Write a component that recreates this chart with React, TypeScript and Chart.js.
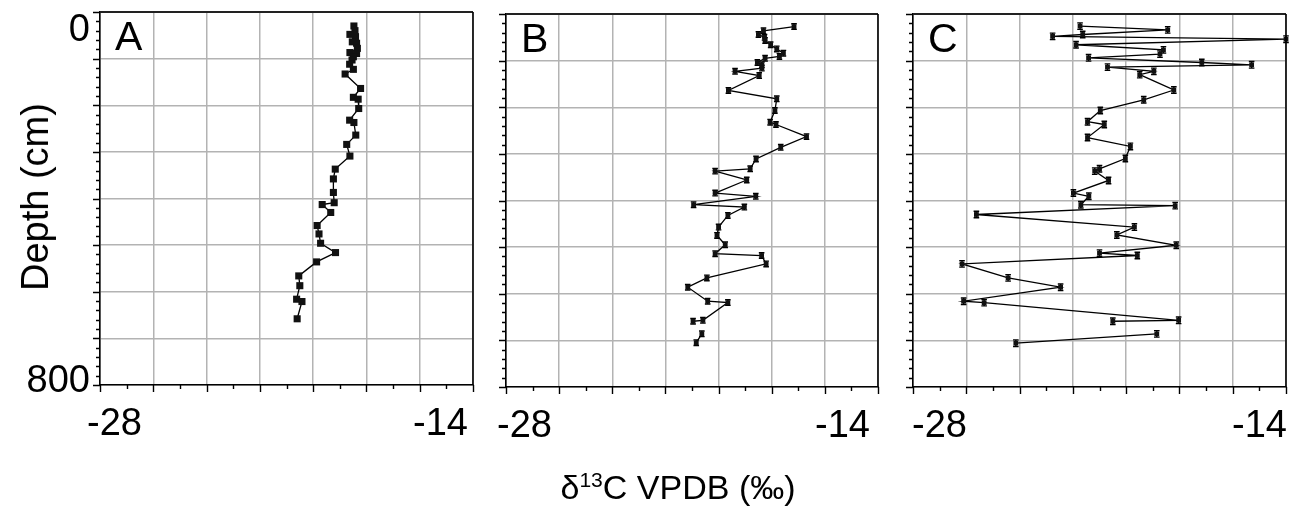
import React, { useEffect, useRef } from "react";
import { Chart, registerables } from "chart.js";

Chart.register(...registerables);

// ---- axes ----
const X_MIN = -28;
const X_MAX = -14;
const DEPTH_MIN = 0;
const DEPTH_MAX = 800;
const xTickValues = [-28, -14];
const xTickLabels = ["-28", "-14"];
const yTickValues = [0, 800];
const yTickLabels = ["0", "800"];

// ---- panel A ----
const depthA = [30, 40, 48, 53, 64, 67, 78, 87, 89, 96, 103, 112, 123, 133, 164, 183, 187, 207, 232, 237, 264, 284, 309, 337, 358, 387, 409, 413, 430, 458, 476, 496, 516, 536, 566, 587, 616, 621, 658];
const d13cA = [-18.47, -18.43, -18.62, -18.41, -18.53, -18.37, -18.34, -18.62, -18.37, -18.49, -18.54, -18.63, -18.49, -18.8, -18.22, -18.49, -18.31, -18.29, -18.63, -18.47, -18.4, -18.74, -18.62, -19.17, -19.24, -19.24, -19.21, -19.66, -19.34, -19.85, -19.78, -19.72, -19.16, -19.87, -20.54, -20.5, -20.62, -20.42, -20.6];

// ---- panel B (null = gap in the record) ----
const depthB = [27, 36, 44, 50, 57, 66, 75, 84, 91, 95, 104, 109, 116, 123, 132, 164, 182, 207, 232, 237, 263, 286, 311, 332, 337, 356, 384, 391, 409, 414, 432, 457, 475, 495, 514, 518, 536, 566, 586, 616, 619, 657, 659, 672, 686, 705];
const d13cB = [-17.16, -18.31, -18.5, -18.27, -18.25, -18.04, -17.81, -17.56, -17.71, -18.25, -18.54, -18.37, -18.37, -19.38, -18.47, -19.63, -17.81, -17.88, -18.06, -17.84, -16.69, -17.66, -18.59, -18.81, -20.13, -18.94, -20.13, -18.6, -20.94, -19.03, -19.65, -20.0, -20.06, -19.75, -20.13, -18.38, -18.21, -20.44, -21.16, -20.41, -19.65, -20.59, -20.96, null, -20.63, -20.84];

// ---- panel C (null = gap in the record) ----
const depthC = [26, 34, 44, 48, 54, 66, 77, 86, 94, 104, 109, 114, 123, 130, 163, 184, 207, 231, 237, 265, 284, 310, 332, 337, 357, 384, 391, 409, 411, 430, 457, 474, 496, 513, 518, 536, 566, 586, 616, 619, 657, 659, 672, 686, 706];
const d13cC = [-21.73, -18.44, -21.63, -22.76, -14.0, -21.88, -18.6, -18.73, -21.41, -17.16, -15.29, -20.7, -18.96, -19.49, -18.21, -19.34, -20.97, -21.45, -20.82, -21.45, -19.84, -20.03, -21.0, -21.18, -20.66, -21.98, -21.4, -21.7, -18.16, -25.62, -19.69, -20.35, -18.12, -21.0, -19.58, -26.16, -24.43, -22.46, -26.1, -25.33, -18.03, -20.5, null, -18.85, -24.14];

// depth uncertainty (cm) drawn as vertical bars
const depthErrA = 0;
const depthErrB = 6;
const depthErrC = 7;

const W = 1295;
const H = 509;
const FONT = '"Liberation Sans", Arial, Helvetica, sans-serif';

type Panel = {
  letter: string;
  depth: number[];
  values: (number | null)[];
  err: number;
  area: { l: number; t: number; r: number; b: number };
  radius: number;
  xLabelDx: [number, number];
  showYLabels: boolean;
};

const panels: Panel[] = [
  { letter: "A", depth: depthA, values: d13cA, err: depthErrA, area: { l: 100, t: 12, r: 473, b: 385 }, radius: 5, xLabelDx: [-13, -5], showYLabels: true },
  { letter: "B", depth: depthB, values: d13cB, err: depthErrB, area: { l: 506, t: 14, r: 878, b: 387 }, radius: 3.4, xLabelDx: [-9, -8], showYLabels: false },
  { letter: "C", depth: depthC, values: d13cC, err: depthErrC, area: { l: 913, t: 14, r: 1286, b: 387 }, radius: 3.4, xLabelDx: [-1, 1], showYLabels: false },
];

const decorPlugin = {
  id: "decor",
  beforeDatasetsDraw(chart: any, _args: any, opts: any) {
    const p: Panel = opts.panel;
    if (!p.err) return;
    const ctx = chart.ctx;
    const ys = chart.scales.y;
    const meta = chart.getDatasetMeta(0);
    ctx.save();
    ctx.strokeStyle = "#000";
    ctx.lineWidth = 1.4;
    meta.data.forEach((el: any, i: number) => {
      if (el.skip || p.values[i] === null) return;
      const y1 = ys.getPixelForValue(p.depth[i] - p.err);
      const y2 = ys.getPixelForValue(p.depth[i] + p.err);
      ctx.beginPath();
      ctx.moveTo(el.x, y1);
      ctx.lineTo(el.x, y2);
      ctx.moveTo(el.x - 2.8, y1);
      ctx.lineTo(el.x + 2.8, y1);
      ctx.moveTo(el.x - 2.8, y2);
      ctx.lineTo(el.x + 2.8, y2);
      ctx.stroke();
    });
    ctx.restore();
  },
  afterDraw(chart: any, _args: any, opts: any) {
    const p: Panel = opts.panel;
    const ctx = chart.ctx;
    const xs = chart.scales.x;
    const ys = chart.scales.y;
    const { left, right, top, bottom } = chart.chartArea;
    ctx.save();
    // top and right frame
    ctx.strokeStyle = "#222";
    ctx.lineWidth = 2;
    ctx.beginPath();
    ctx.moveTo(left, top);
    ctx.lineTo(right, top);
    ctx.stroke();
    ctx.strokeStyle = "#000";
    ctx.lineWidth = 1.6;
    ctx.beginPath();
    ctx.moveTo(right, top);
    ctx.lineTo(right, bottom);
    ctx.stroke();
    // tick marks
    ctx.lineWidth = 1.4;
    ctx.beginPath();
    for (let v = X_MIN; v <= X_MAX; v += 1) {
      const x = Math.round(xs.getPixelForValue(v)) + 0.5;
      const len = Math.abs(v % 2) === 0 ? 7 : 4;
      ctx.moveTo(x, bottom);
      ctx.lineTo(x, bottom + len);
    }
    for (let d = DEPTH_MIN; d <= DEPTH_MAX; d += 20) {
      const y = Math.round(ys.getPixelForValue(d)) + 0.5;
      const len = d % 100 === 0 ? 7 : 4;
      ctx.moveTo(left - len, y);
      ctx.lineTo(left, y);
    }
    ctx.stroke();
    // tick labels
    ctx.fillStyle = "#000";
    ctx.font = `38px ${FONT}`;
    ctx.textBaseline = "alphabetic";
    ctx.textAlign = "left";
    ctx.fillText(xTickLabels[0], xs.getPixelForValue(xTickValues[0]) + p.xLabelDx[0], bottom + 50);
    ctx.textAlign = "right";
    ctx.fillText(xTickLabels[1], xs.getPixelForValue(xTickValues[1]) + p.xLabelDx[1], bottom + 50);
    if (p.showYLabels) {
      ctx.textAlign = "right";
      ctx.fillText(yTickLabels[0], left - 10, ys.getPixelForValue(yTickValues[0]) + 29);
      ctx.fillText(yTickLabels[1], left - 10, ys.getPixelForValue(yTickValues[1]) + 7);
    }
    // panel letter
    ctx.font = `41px ${FONT}`;
    ctx.textAlign = "left";
    ctx.textBaseline = "alphabetic";
    ctx.fillText(p.letter, left + 15, top + 38);
    ctx.restore();
  },
};

function PanelChart({ panel }: { panel: Panel }) {
  const ref = useRef<HTMLCanvasElement | null>(null);
  useEffect(() => {
    if (!ref.current) return;
    const data = panel.values.map((v, i) => ({ x: v, y: v === null ? null : panel.depth[i] }));
    const chart = new Chart(ref.current, {
      type: "scatter",
      data: {
        datasets: [
          {
            data: data as any,
            showLine: true,
            spanGaps: false,
            borderColor: "#000",
            borderWidth: 1.3,
            backgroundColor: "#000",
            pointStyle: "rect",
            pointRadius: panel.radius,
            pointBorderWidth: 0,
            pointBackgroundColor: "#111",
            clip: 6,
          } as any,
        ],
      },
      options: {
        responsive: false,
        animation: false,
        events: [],
        layout: {
          padding: { left: panel.area.l, top: panel.area.t, right: W - panel.area.r, bottom: H - panel.area.b },
        },
        plugins: {
          legend: { display: false },
          tooltip: { enabled: false },
          decor: { panel },
        } as any,
        scales: {
          x: {
            type: "linear",
            min: X_MIN,
            max: X_MAX,
            ticks: { display: false, stepSize: 2 },
            grid: { color: "#b3b3b3", lineWidth: 1.5, drawTicks: false },
            border: { display: true, color: "#000", width: 1.6 },
          },
          y: {
            type: "linear",
            reverse: true,
            min: DEPTH_MIN,
            max: DEPTH_MAX,
            ticks: { display: false, stepSize: 100 },
            grid: { color: "#b3b3b3", lineWidth: 1.5, drawTicks: false },
            border: { display: true, color: "#000", width: 1.6 },
          },
        },
      },
      plugins: [decorPlugin],
    });
    return () => chart.destroy();
  }, [panel]);
  return (
    <canvas
      ref={ref}
      width={W}
      height={H}
      style={{ position: "absolute", left: 0, top: 0, width: W, height: H }}
    />
  );
}

export default function App() {
  return (
    <div style={{ position: "fixed", left: 0, top: 0, width: W, height: H, background: "#fff", overflow: "hidden", fontFamily: FONT }}>
      {panels.map((p) => (
        <PanelChart key={p.letter} panel={p} />
      ))}
      <div
        style={{
          position: "absolute",
          left: 35,
          top: 197,
          transform: "translate(-50%, -50%) rotate(-90deg)",
          whiteSpace: "nowrap",
          fontSize: 38,
          lineHeight: 1,
          color: "#000",
        }}
      >
        Depth (cm)
      </div>
      <div
        style={{
          position: "absolute",
          left: 678,
          top: 487,
          transform: "translate(-50%, -50%)",
          whiteSpace: "nowrap",
          fontSize: 34,
          lineHeight: 1,
          color: "#000",
        }}
      >
        δ<sup style={{ fontSize: "0.62em", verticalAlign: "0.55em", lineHeight: 0 }}>13</sup>C VPDB (‰)
      </div>
    </div>
  );
}
